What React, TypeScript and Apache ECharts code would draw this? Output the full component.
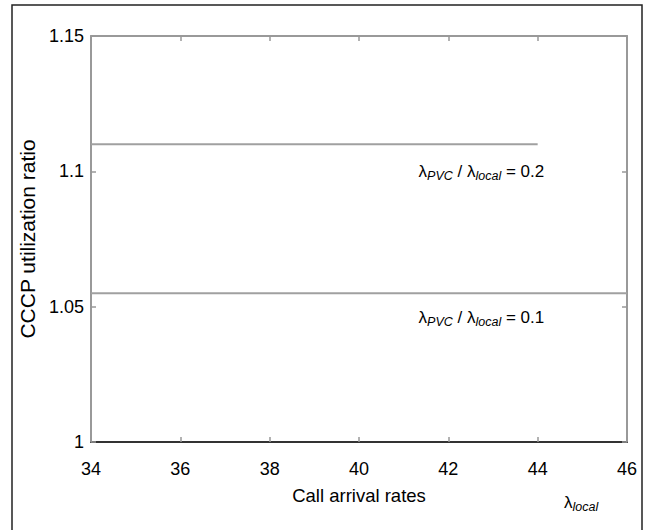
import React, { useEffect, useRef } from "react";
import * as echarts from "echarts";

const xMin = 34;
const xMax = 46;
const xInterval = 2;
const yMin = 1;
const yMax = 1.15;
const yInterval = 0.05;

const series02X = [34, 44];
const series02Y = [1.11, 1.11];
const series01X = [34, 46];
const series01Y = [1.055, 1.055];

const label02 = { x: 42.74, y: 1.1, ratio: "0.2" };
const label01 = { x: 42.74, y: 1.046, ratio: "0.1" };

const xAxisName = "Call arrival rates";
const yAxisName = "CCCP utilization ratio";

const FONT = "Liberation Sans, Arial, sans-serif";

const rich = {
  l: { fontSize: 17, fontFamily: FONT, color: "#000", lineHeight: 22, verticalAlign: "middle" },
  s: { fontSize: 12.5, fontFamily: FONT, fontStyle: "italic", color: "#000", lineHeight: 9, verticalAlign: "bottom" },
  n: { fontSize: 17, fontFamily: FONT, color: "#000", lineHeight: 22, verticalAlign: "middle" },
};

function ratioLabel(r: string) {
  return `{l|λ}{s|PVC}{n| / }{l|λ}{s|local}{n| = ${r}}`;
}

export default function App() {
  const ref = useRef<HTMLDivElement>(null);
  useEffect(() => {
    if (!ref.current) return;
    const chart = echarts.init(ref.current, null, { renderer: "svg" });
    const grayLine = { color: "#999", width: 2 };
    const tickStyle = { show: true, inside: true, length: 5, lineStyle: { color: "#999", width: 1.5 } };
    chart.setOption({
      animation: false,
      backgroundColor: "#fff",
      grid: { left: 91, right: 21, top: 36, bottom: 88, containLabel: false },
      graphic: [
        {
          type: "rect",
          shape: { x: 12, y: 5, width: 630, height: 540 },
          style: { fill: "none", stroke: "#222", lineWidth: 1.5 },
          silent: true,
        },
        {
          type: "text",
          left: 564,
          top: 494,
          style: { text: "{l|λ}{s|local}", rich },
        },
      ],
      xAxis: [
        {
          type: "value",
          min: xMin,
          max: xMax,
          interval: xInterval,
          position: "bottom",
          name: xAxisName,
          nameLocation: "middle",
          nameGap: 44,
          nameTextStyle: { fontSize: 18.5, fontFamily: FONT, color: "#000" },
          axisLine: { show: true, lineStyle: { color: "#333", width: 2 } },
          axisTick: tickStyle,
          axisLabel: { fontSize: 18, fontFamily: FONT, color: "#000", margin: 18 },
          splitLine: { show: false },
        },
        {
          type: "value",
          min: xMin,
          max: xMax,
          interval: xInterval,
          position: "top",
          axisLine: { show: true, lineStyle: grayLine },
          axisTick: tickStyle,
          axisLabel: { show: false },
          splitLine: { show: false },
        },
      ],
      yAxis: [
        {
          type: "value",
          min: yMin,
          max: yMax,
          interval: yInterval,
          position: "left",
          name: yAxisName,
          nameLocation: "middle",
          nameGap: 50,
          nameTextStyle: { fontSize: 21, fontFamily: FONT, color: "#000" },
          axisLine: { show: true, lineStyle: grayLine },
          axisTick: tickStyle,
          axisLabel: { fontSize: 18, fontFamily: FONT, color: "#000", margin: 7 },
          splitLine: { show: false },
        },
        {
          type: "value",
          min: yMin,
          max: yMax,
          interval: yInterval,
          position: "right",
          axisLine: { show: true, lineStyle: grayLine },
          axisTick: tickStyle,
          axisLabel: { show: false },
          splitLine: { show: false },
        },
      ],
      series: [
        {
          type: "line",
          data: series02X.map((x, i) => [x, series02Y[i]]),
          symbol: "none",
          lineStyle: { color: "#a0a0a0", width: 2 },
          markPoint: {
            symbol: "circle",
            symbolSize: 0,
            data: [{ coord: [label02.x, label02.y] }],
            label: { show: true, position: "inside", formatter: ratioLabel(label02.ratio), rich },
          },
        },
        {
          type: "line",
          data: series01X.map((x, i) => [x, series01Y[i]]),
          symbol: "none",
          lineStyle: { color: "#a0a0a0", width: 2 },
          markPoint: {
            symbol: "circle",
            symbolSize: 0,
            data: [{ coord: [label01.x, label01.y] }],
            label: { show: true, position: "inside", formatter: ratioLabel(label01.ratio), rich },
          },
        },
      ],
    });
    return () => chart.dispose();
  }, []);
  return (
    <div
      ref={ref}
      style={{ position: "fixed", left: 0, top: 0, width: 648, height: 530 }}
    />
  );
}
